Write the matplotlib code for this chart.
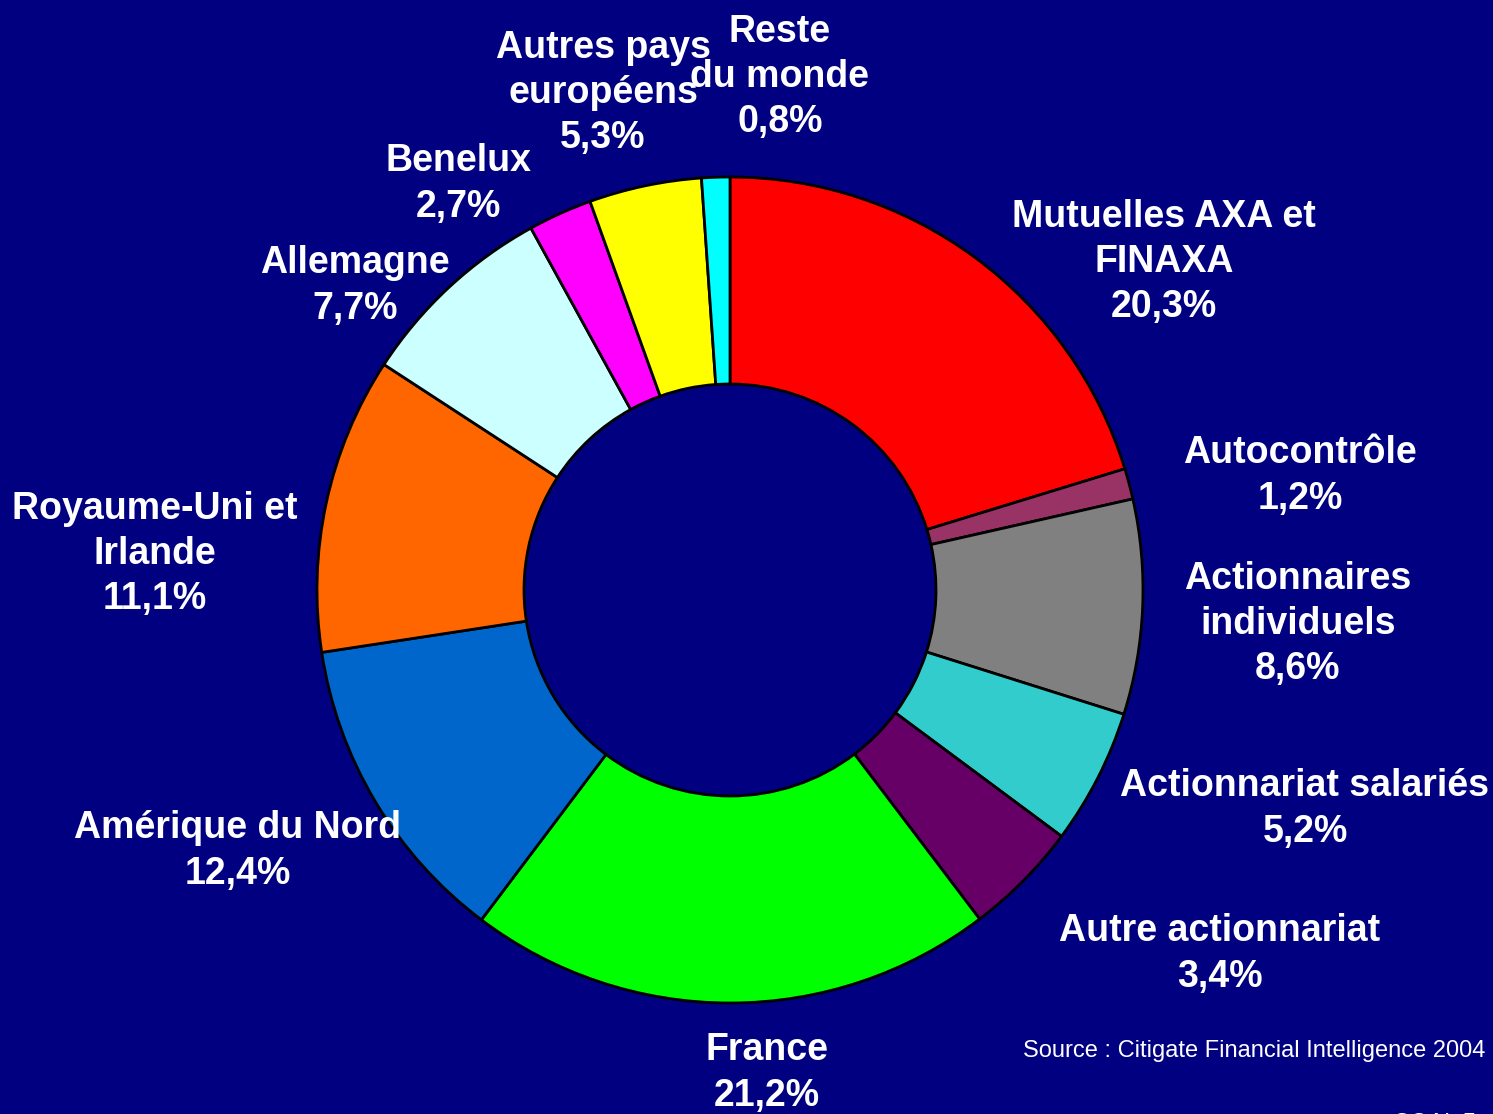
import matplotlib
matplotlib.use("Agg")
import matplotlib.pyplot as plt

# parts du capital : textes affichés
labels = ["Mutuelles AXA et\nFINAXA", "Autocontrôle", "Actionnaires\nindividuels",
          "Actionnariat salariés", "Autre actionnariat", "France", "Amérique du Nord",
          "Royaume-Uni et\nIrlande", "Allemagne", "Benelux", "Autres pays\neuropéens",
          "Reste\ndu monde"]
pct_text = ["20,3%", "1,2%", "8,6%", "5,2%", "3,4%", "21,2%", "12,4%", "11,1%",
            "7,7%", "2,7%", "5,3%", "0,8%"]
# taille des secteurs (%)
values = [20.25, 1.2, 8.4, 5.3, 4.5, 20.6, 12.3, 11.6, 7.8, 2.5, 4.4, 1.1]
colors = ["#FF0000", "#993366", "#808080", "#33CCCC", "#660066", "#00FF00",
          "#0066CC", "#FF6600", "#CCFFFF", "#FF00FF", "#FFFF00", "#00FFFF"]

# position des étiquettes (pixels, origine en haut à gauche)
label_pos = [(1164, 262), (1300, 476), (1298, 624), (1305, 809), (1220, 954),
             (767, 1073), (238, 851), (155, 554), (355, 286), (458, 184),
             (603, 93), (780, 77)]

W, H = 1493, 1114
bg = "#000080"
fig = plt.figure(figsize=(W / 100, H / 100), dpi=100, facecolor=bg)
ax = fig.add_axes([0, 0, 1, 1])
ax.set_facecolor(bg)
ax.axis("off")

ax.pie(values, colors=colors, startangle=90, counterclock=False,
       center=(730, H - 590), radius=413,
       wedgeprops=dict(width=207, edgecolor="black", linewidth=2))
ax.set_xlim(0, W)
ax.set_ylim(0, H)
ax.set_aspect("equal")

for lab, pct, (x, y) in zip(labels, pct_text, label_pos):
    ax.text(x, H - y, lab + "\n" + pct, ha="center", va="center", color="white",
            fontsize=27, fontweight="bold", family="Liberation Sans",
            linespacing=1.33)

ax.text(1485, H - 1051, "Source : Citigate Financial Intelligence 2004", ha="right",
        va="center", color="white", fontsize=17, family="Liberation Sans")
# pied de page coupé en bas, comme sur l'original
ax.text(1435, H - 1124, "COAL 5", ha="center", va="center", color="white",
        fontsize=17, family="Liberation Sans")

fig.savefig("out.png", dpi=100, facecolor=bg)
